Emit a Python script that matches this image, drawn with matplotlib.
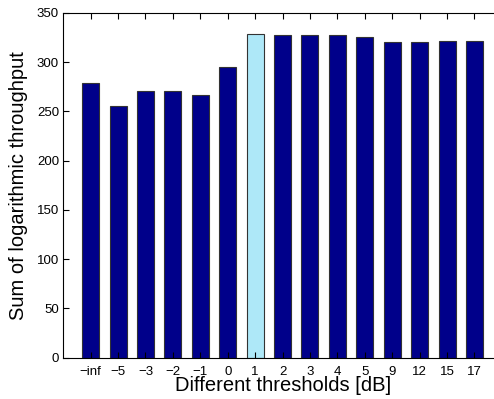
import matplotlib
matplotlib.use("Agg")
import matplotlib.pyplot as plt
import numpy as np

plt.rcParams["font.family"] = ["Liberation Sans", "DejaVu Sans"]

# 阈值标签与对应的对数吞吐量之和
thresholds = ["\u2212inf", "\u22125", "\u22123", "\u22122", "\u22121", "0", "1",
              "2", "3", "4", "5", "9", "12", "15", "17"]
throughput = [279, 255, 271, 271, 267, 295, 328, 327, 327, 327, 325, 320, 320, 321, 321]
highlight = "1"

dark = "#00008a"
light = "#aee8f8"
colors = [light if t == highlight else dark for t in thresholds]

fig = plt.figure(figsize=(4.94, 3.99), dpi=100)
ax = fig.add_axes([0.128, 0.104, 0.888, 0.864])

x = np.arange(1, len(thresholds) + 1)
ax.bar(x, throughput, width=0.62, color=colors, edgecolor="#333333", linewidth=0.8)

ax.set_xlim(0, len(thresholds) + 1)
ax.set_ylim(0, 350)
ax.set_yticks(np.arange(0, 351, 50))
ax.set_xticks(x)
ax.set_xticklabels(thresholds)
ax.tick_params(direction="in", length=4, labelsize=9.5, top=True, right=False, width=0.8)
ax.tick_params(axis="x", pad=6)
ax.tick_params(axis="y", pad=3)
for s in ax.spines.values():
    s.set_linewidth(0.8)
ax.spines["right"].set_visible(False)

ax.set_xlabel("Different thresholds [dB]", fontsize=14.5, labelpad=-1)
ax.set_ylabel("Sum of logarithmic throughput", fontsize=14.5, labelpad=6)

fig.savefig("out.png", dpi=100)
